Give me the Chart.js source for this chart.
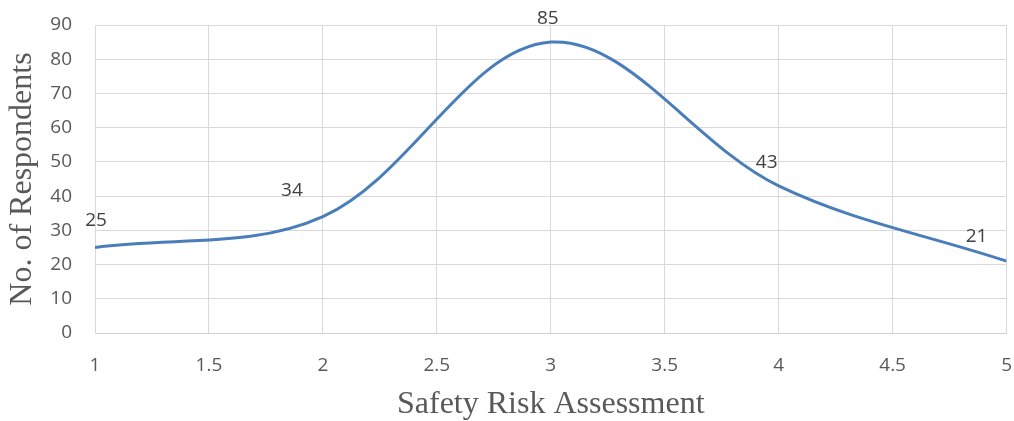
<!DOCTYPE html>
<html>
<head>
<meta charset="utf-8">
<script src="https://cdn.jsdelivr.net/npm/chart.js@4.4.1/dist/chart.umd.min.js"></script>
<style>
  html, body { margin: 0; padding: 0; background: #fff; }
  #wrap { width: 1014px; height: 421px; }
</style>
</head>
<body>
<div id="wrap"><canvas id="myChart" width="1014" height="421"></canvas></div>
<script>
// values
const riskLevels = [1, 2, 3, 4, 5];
const respondents = [25, 34, 85, 43, 21];
const xTitle = "Safety Risk Assessment";
const yTitle = "No. of Respondents";

// where each value label sits relative to its point (px)
const labelOffsets = [[1, -27], [-31, -26], [-3, -24], [-12, -23], [-30, -25]];

const tickFont = { family: "'Open Sans', sans-serif", size: 19 };
const titleFont = { family: "'Liberation Serif', 'Times New Roman', serif", size: 32 };

const valueLabels = {
    id: "valueLabels",
    afterDatasetsDraw(chart) {
        const ctx = chart.ctx;
        const meta = chart.getDatasetMeta(0);
        ctx.save();
        ctx.font = "19px 'Open Sans', sans-serif";
        ctx.fillStyle = "#404040";
        ctx.textAlign = "center";
        ctx.textBaseline = "middle";
        meta.data.forEach((pt, i) => {
            const off = labelOffsets[i];
            ctx.fillText(String(respondents[i]), pt.x + off[0], pt.y + off[1]);
        });
        ctx.restore();
    }
};

new Chart("myChart", {
    type: "line",
    data: {
        datasets: [{
            data: riskLevels.map((x, i) => ({ x: x, y: respondents[i] })),
            borderColor: "#4a7ebb",
            borderWidth: 3,
            fill: false,
            tension: 0.35,
            pointRadius: 0
        }]
    },
    options: {
        responsive: false,
        animation: false,
        layout: { padding: { top: 25, right: 6, bottom: 0, left: 0 } },
        plugins: { legend: { display: false }, tooltip: { enabled: false } },
        scales: {
            x: {
                type: "linear",
                min: 1,
                max: 5,
                ticks: {
                    stepSize: 0.5, color: "#595959", font: tickFont, padding: 2, maxRotation: 0,
                    callback: (v) => String(v)
                },
                grid: { color: "#d9d9d9", lineWidth: 1, drawTicks: true, tickLength: 19, tickColor: "rgba(0,0,0,0)" },
                border: { color: "#d0d0d0", width: 1 },
                title: { display: true, text: xTitle, color: "#595959", font: { ...titleFont, lineHeight: 1.0 }, padding: 0 },
                afterFit(scale) { scale.height = 421 - 333; }
            },
            y: {
                min: 0,
                max: 90,
                ticks: { stepSize: 10, color: "#595959", font: tickFont, padding: 2 },
                grid: { color: "#d9d9d9", lineWidth: 1, drawTicks: true, tickLength: 21, tickColor: "rgba(0,0,0,0)" },
                border: { color: "#d9d9d9", width: 1 },
                title: { display: true, text: yTitle, color: "#595959", font: { ...titleFont, lineHeight: 1.2 }, padding: { top: 3, bottom: 0 } },
                afterFit(scale) { scale.width = 95; }
            }
        }
    },
    plugins: [valueLabels]
});
</script>
</body>
</html>
